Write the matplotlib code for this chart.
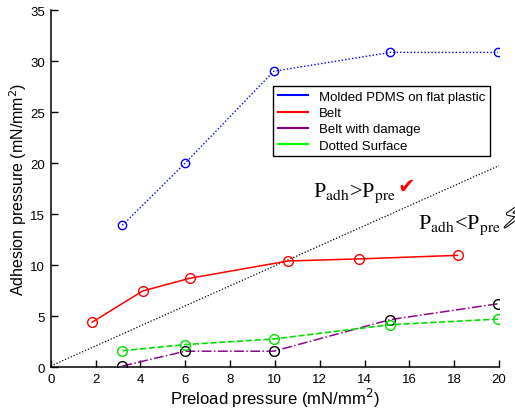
import matplotlib
matplotlib.use("Agg")
import matplotlib.pyplot as plt
from matplotlib.lines import Line2D
import matplotlib.patheffects as pe

plt.rcParams['font.family'] = ['Liberation Sans', 'DejaVu Sans']

# Data
pdms_x = [3.2, 6.0, 9.95, 15.15, 19.95]
pdms_y = [13.9, 20.0, 29.0, 30.85, 30.85]
belt_x = [1.85, 4.1, 6.2, 10.6, 13.75, 18.15]
belt_y = [4.4, 7.45, 8.7, 10.4, 10.6, 10.95]
damage_x = [3.2, 6.0, 9.95, 15.15, 19.95]
damage_y = [0.1, 1.55, 1.55, 4.65, 6.2]
dotted_x = [3.2, 6.0, 9.95, 15.15, 19.95]
dotted_y = [1.6, 2.2, 2.75, 4.15, 4.7]
ref_x = [0, 20]
ref_y = [0.1, 19.75]
xticks = list(range(0, 21, 2))
yticks = list(range(0, 36, 5))
legend_labels = ["Molded PDMS on flat plastic", "Belt", "Belt with damage", "Dotted Surface"]

fig = plt.figure(figsize=(5.15, 4.1), dpi=100)
ax = fig.add_axes([0.0985, 0.1024, 0.8705, 0.8706])

ax.plot(ref_x, ref_y, color='black', linestyle=(0, (1, 1.5)), linewidth=0.9)
ax.plot(pdms_x, pdms_y, color='blue', linestyle=(0, (1, 1.5)), linewidth=1.0,
        marker='o', markersize=6, markerfacecolor='none', markeredgecolor='blue', markeredgewidth=1.0)
ax.plot(belt_x, belt_y, color='red', linestyle='-', linewidth=1.1,
        marker='o', markersize=7, markerfacecolor='none', markeredgecolor='red', markeredgewidth=1.0)
ax.plot(damage_x, damage_y, color='#8B0A8B', linestyle='-.', linewidth=1.1,
        marker='o', markersize=7, markerfacecolor='none', markeredgecolor='black', markeredgewidth=1.0)
ax.plot(dotted_x, dotted_y, color='#00e000', linestyle='--', linewidth=1.2,
        marker='o', markersize=7, markerfacecolor='none', markeredgecolor='#00e000', markeredgewidth=1.0)

ax.set_xlim(0, 20)
ax.set_ylim(0, 35)
ax.set_xticks(xticks)
ax.set_yticks(yticks)
ax.tick_params(direction='in', length=5, width=1, labelsize=9.5, pad=4, colors='black')
for s in ['top', 'right']:
    ax.spines[s].set_visible(False)
for s in ['left', 'bottom']:
    ax.spines[s].set_linewidth(1.1)

ax.set_xlabel("Preload pressure (mN/mm$^2$)", fontsize=12, labelpad=1)
ax.set_ylabel("Adhesion pressure (mN/mm$^2$)", fontsize=11.5, labelpad=1)

handles = [Line2D([], [], color=c, linewidth=1.5) for c in ['blue', 'red', '#800080', '#00ff00']]
leg = ax.legend(handles, legend_labels, loc='upper left', bbox_to_anchor=(0.496, 0.787),
                borderaxespad=0, fontsize=9.5, frameon=True, fancybox=False,
                edgecolor='black', framealpha=1, handlelength=2.3, labelspacing=0.3,
                borderpad=0.35, handletextpad=0.8)
leg.get_frame().set_linewidth(1.0)

ax.text(11.7, 16.8, r'P$_{\mathrm{adh}}$>P$_{\mathrm{pre}}$', fontsize=16, math_fontfamily='stix',
        family=['Liberation Serif'], ha='left', va='baseline', color='black')
ax.text(16.4, 13.6, r'P$_{\mathrm{adh}}$<P$_{\mathrm{pre}}$', fontsize=16, math_fontfamily='stix',
        family=['Liberation Serif'], ha='left', va='baseline', color='black')
ax.text(15.85, 17.8, '\u2714', fontsize=15, color='red', ha='center', va='center',
        family=['DejaVu Sans'])
ax.text(20.65, 14.6, '\u26A1', fontsize=24, color='white', ha='center', va='center',
        family=['DejaVu Sans'], clip_on=False,
        path_effects=[pe.withStroke(linewidth=1.5, foreground='black')])

fig.savefig("out.png", dpi=100)
